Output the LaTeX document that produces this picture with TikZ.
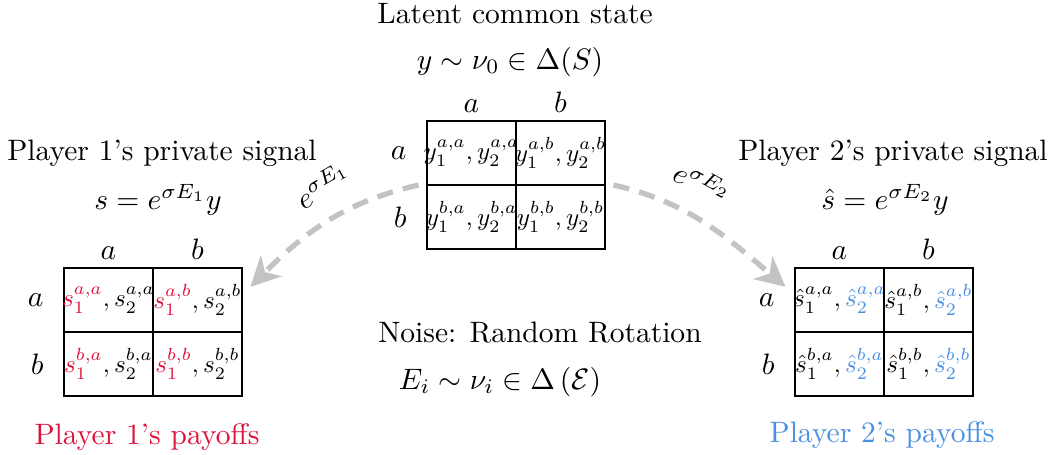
\documentclass[tikz,border=0pt]{standalone}
\usetikzlibrary{matrix,positioning,arrows.meta,calc}
\definecolor{pone}{RGB}{220,20,60}
\definecolor{ptwo}{RGB}{74,144,226}
\definecolor{noisegray}{RGB}{195,195,195}
\newcommand{\pcell}[1]{\hbox to 0pt{\hss\scalebox{0.85}{$#1$}\hss}}
\tikzset{
mymat/.style={
  matrix of math nodes,
  thick,
  inner sep=0pt,
  nodes={draw,thick,minimum width=1.06cm,minimum height=0.76cm,inner sep=0pt,anchor=center},
  column sep=-0.8pt,
  row sep=-0.8pt
  },
noise/.style={
  noisegray,
  line width=1.8pt,
  dash pattern=on 5.5pt off 3.5pt,
  -{Stealth[length=10pt,width=10pt,inset=3pt]}
  }
}

\begin{document}
\begin{tikzpicture}[x=0.0119cm,y=-0.0119cm]
\useasboundingbox (0,0) rectangle (1051,454);

% latent state
\matrix[mymat] at (516,185) (matY)
{
\pcell{y_1^{a,a}, y_2^{a,a}} & \pcell{y_1^{a,b}, y_2^{a,b}} \\
\pcell{y_1^{b,a}, y_2^{b,a}} & \pcell{y_1^{b,b}, y_2^{b,b}} \\
};

% player 1
\matrix[mymat] at (153,332) (matS1)
{
\pcell{{\color{pone}s_1^{a,a}}, s_2^{a,a}} & \pcell{{\color{pone}s_1^{a,b}}, s_2^{a,b}} \\
\pcell{{\color{pone}s_1^{b,a}}, s_2^{b,a}} & \pcell{{\color{pone}s_1^{b,b}}, s_2^{b,b}} \\
};

% player 2
\matrix[mymat] at (884,332) (matS2)
{
\pcell{\hat{s}_1^{a,a}, {\color{ptwo}\hat{s}_2^{a,a}}} & \pcell{\hat{s}_1^{a,b}, {\color{ptwo}\hat{s}_2^{a,b}}} \\
\pcell{\hat{s}_1^{b,a}, {\color{ptwo}\hat{s}_2^{b,a}}} & \pcell{\hat{s}_1^{b,b}, {\color{ptwo}\hat{s}_2^{b,b}}} \\
};

\foreach \m in {matY,matS1,matS2}{
  \node[above=-1pt of \m-1-1] (\m-ca) {$a$};
  \node[above=-1pt of \m-1-2] (\m-cb) {$b$};
  \node[left=3pt of \m-1-1] (\m-ra) {$a$};
  \node[left=3pt of \m-2-1] (\m-rb) {$b$};
}

\node (latent) at (515,14) {Latent common state};
\node (ydist) at (510,62) {$y\sim\nu_0\in\Delta(S)$};

\node (priv1) at (162,153) {Player 1's private signal};
\node (sig1) at (158,200) {$s=e^{\sigma E_1}y$};
\node[pone] (pay1) at (147,437) {Player 1's payoffs};

\node (priv2) at (893,153) {Player 2's private signal};
\node (sig2) at (885,200) {$\hat{s}=e^{\sigma E_2}y$};
\node[ptwo] (pay2) at (882,435) {Player 2's payoffs};

\node (noise) at (540,333) {Noise: Random Rotation};
\node (edist) at (500,382) {$E_i\sim\nu_i\in\Delta\left(\mathcal{E}\right)$};

\coordinate (tip1) at ($(matS1.north east)+(6,21)$);
\coordinate (tip2) at ($(matS2.north west)+(-7,21)$);

\draw[noise] ($(matY.west)+(-6,0)$) to[out=193,in=45]
  node[pos=0.42,sloped,above=3pt,black] (lab1) {$e^{\sigma E_1}$} (tip1);
\draw[noise] ($(matY.east)+(6,0)$) to[out=-13,in=140]
  node[pos=0.38,sloped,above=3pt,black] (lab2) {$e^{\sigma E_2}$} (tip2);
\end{tikzpicture}
\end{document}
